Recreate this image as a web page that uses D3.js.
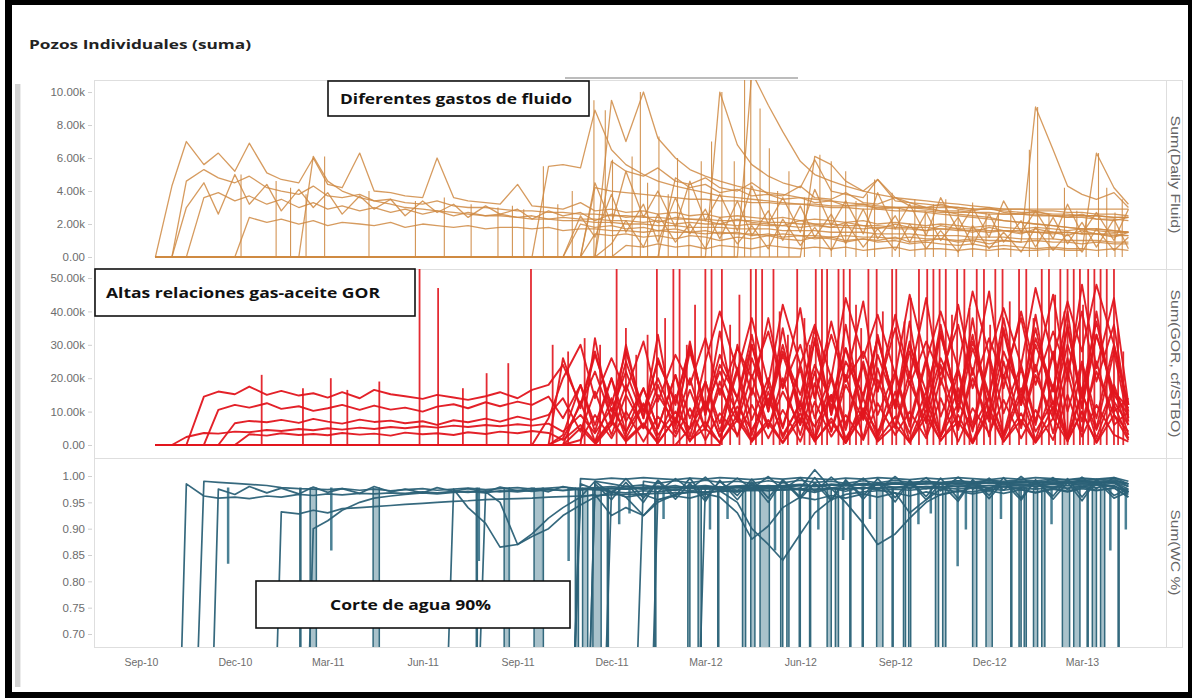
<!DOCTYPE html>
<html>
<head>
<meta charset="utf-8">
<script src="https://cdn.jsdelivr.net/npm/d3@7"></script>
<style>
  body { margin: 0; background: #fff; }
  svg { display: block; }
</style>
</head>
<body>
<svg id="chart" width="1192" height="698"></svg>
<script>
// half-month sample dates shared by every well series
const dates = [
  "2010-09-15","2010-10-01","2010-10-15","2010-11-01","2010-11-15","2010-12-01","2010-12-15",
  "2011-01-01","2011-01-15","2011-02-01","2011-02-15","2011-03-01","2011-03-15","2011-04-01","2011-04-15",
  "2011-05-01","2011-05-15","2011-06-01","2011-06-15","2011-07-01","2011-07-15","2011-08-01","2011-08-15",
  "2011-09-01","2011-09-15","2011-10-01","2011-10-15","2011-11-01","2011-11-15","2011-12-01","2011-12-15",
  "2012-01-01","2012-01-15","2012-02-01","2012-02-15","2012-03-01","2012-03-15","2012-04-01","2012-04-15",
  "2012-05-01","2012-05-15","2012-06-01","2012-06-15","2012-07-01","2012-07-15","2012-08-01","2012-08-15",
  "2012-09-01","2012-09-15","2012-10-01","2012-10-15","2012-11-01","2012-11-15","2012-12-01","2012-12-15",
  "2013-01-01","2013-01-15","2013-02-01","2013-02-15","2013-03-01","2013-03-15","2013-04-01","2013-04-15"
];

const xTicks = ["2010-09-01","2010-12-01","2011-03-01","2011-06-01","2011-09-01","2011-12-01",
  "2012-03-01","2012-06-01","2012-09-01","2012-12-01","2013-03-01"];

// ---- Daily fluid (thousands) ----
const fluidTicks = [0, 2, 4, 6, 8, 10];
const fluidTickLabels = ["0.00", "2.00k", "4.00k", "6.00k", "8.00k", "10.00k"];

const fluidA = [0,4.3,7.0,5.6,6.3,5.2,6.9,5.1,4.7,4.5,
  6.0,4.4,4.2,6.3,4.0,3.9,3.7,3.6,6.0,3.6,
  3.4,3.3,3.2,4.4,3.1,3.0,2.9,3.3,2.8,2.9,
  2.7,2.8,2.6,2.7,2.5,2.6,2.4,2.5,2.4,2.3,
  2.4,2.2,2.3,2.2,2.1,2.2,2.0,2.1,2.0,1.9,
  2.0,1.9,1.8,1.9,1.8,1.7,1.8,1.7,1.6,1.7,
  1.6,1.5,1.5];
const fluidB = [0,0,4.6,5.3,4.8,4.5,4.9,4.2,4.0,3.8,
  4.3,3.7,3.6,3.8,3.4,3.5,3.3,3.2,3.4,3.1,
  3.0,3.0,2.9,2.8,2.8,2.7,2.7,2.6,2.6,2.5,
  2.5,2.4,2.4,2.3,2.3,2.3,2.2,2.2,2.2,2.1,
  2.1,2.0,2.0,2.0,1.9,1.9,1.9,1.8,1.8,1.8,
  1.7,1.7,1.7,1.6,1.6,1.6,1.5,1.5,1.5,1.4,
  1.4,1.4,1.3];
const fluidC = [0,0,0,3.6,3.9,3.4,3.7,3.2,3.5,3.0,
  3.3,2.9,3.1,2.8,3.0,2.7,2.9,2.6,2.8,2.5,
  2.7,2.5,2.6,2.4,2.5,2.3,2.4,2.3,2.3,2.2,
  2.2,2.1,2.2,2.0,2.1,2.0,2.0,1.9,2.0,1.9,
  1.9,1.8,1.9,1.8,1.8,1.7,1.8,1.7,1.7,1.6,
  1.7,1.6,1.6,1.5,1.6,1.5,1.5,1.4,1.5,1.4,
  1.4,1.3,1.3];
const fluidD = [0,0,0,0,0,0,2.4,2.1,2.3,2.0,
  2.2,1.9,2.1,2.0,1.9,2.1,1.8,2.0,1.9,1.8,
  1.9,1.7,1.8,1.8,1.7,1.8,1.6,1.7,1.7,1.6,
  1.6,1.5,1.6,1.5,1.5,1.4,1.5,1.4,1.4,1.3,
  1.4,1.3,1.3,1.2,1.3,1.2,1.2,1.1,1.2,1.1,
  1.1,1.0,1.1,1.0,1.0,0.9,1.0,0.9,0.9,0.8,
  0.9,0.8,0.8];
const fluidE = [0,0,0,0,0,0,0,0,0,0,
  6.1,4.6,4.0,3.6,3.4,3.2,3.0,2.9,2.8,2.7,
  2.6,2.5,2.5,2.4,2.3,2.3,2.2,2.2,2.1,2.1,
  2.0,2.0,1.9,1.9,1.8,1.8,1.8,1.7,1.7,1.7,
  1.6,1.6,1.6,1.5,1.5,1.5,1.4,1.4,1.4,1.3,
  1.3,1.3,1.2,1.2,1.2,1.1,1.1,1.1,1.0,1.0,
  1.0,0.9,0.9];
const fluidF = [0,0,0,0,0,0,0,0,0,0,
  0,0,0,0,0,0,0,0,0,0,
  0,0,0,0,0,5.5,5.6,5.4,8.9,6.5,
  5.6,5.0,4.6,4.3,4.1,3.9,3.7,3.6,3.5,3.4,
  3.3,3.2,3.1,3.0,3.0,2.9,2.9,2.8,2.8,2.8,
  2.7,2.7,2.7,2.6,2.6,2.6,2.6,2.5,2.5,2.5,
  2.5,2.4,2.4];
const fluidG = [0,0,0,0,0,0,0,0,0,0,
  0,0,0,0,0,0,0,0,0,0,
  0,0,0,0,0,0,0,0,0,9.5,
  7.0,10.0,7.2,6.0,5.3,4.9,4.6,4.3,4.1,3.9,
  3.8,3.6,3.5,3.4,3.3,3.2,3.1,3.0,3.0,2.9,
  2.8,2.8,2.7,2.7,2.6,2.6,2.5,2.5,2.4,2.4,
  2.3,2.3,2.2];
const fluidH = [0,0,0,0,0,0,0,0,0,0,
  0,0,0,0,0,0,0,0,0,0,
  0,0,0,0,0,0,0,0,0,0,
  0,0,0,0,0,0,10.0,6.8,5.6,4.9,
  4.5,4.2,5.9,4.0,3.8,3.6,4.7,3.4,3.3,3.2,
  3.1,3.0,2.9,2.9,2.8,2.7,2.7,2.6,2.6,2.5,
  2.5,2.4,2.4];
const fluidI = [0,0,0,0,0,0,0,0,0,0,
  0,0,0,0,0,0,0,0,0,0,
  0,0,0,0,0,0,0,0,0,0,
  0,0,0,0,0,0,0,0,11.2,9.2,
  7.6,5.8,5.0,4.6,4.3,4.0,3.8,3.6,3.5,3.4,
  3.3,3.2,3.1,3.0,2.9,2.9,2.8,2.8,2.7,2.7,
  2.6,2.6,2.5];
const fluidJ = [0,0,0,0,0,0,0,0,0,0,
  0,0,0,0,0,0,0,0,0,0,
  0,0,0,0,0,0,0,0,1.4,1.3,
  1.4,1.2,1.3,1.1,1.3,1.2,1.0,1.2,1.1,1.3,
  1.1,1.0,1.2,1.1,0.9,1.1,1.0,1.2,0.9,1.0,
  1.1,0.9,1.0,0.8,1.0,0.9,9.1,6.5,4.3,3.8,
  3.5,3.9,3.0];
const fluidK = [0,0,0,0,0,0,0,0,0,0,
  0,0,0,0,0,0,0,0,0,0,
  0,0,0,0,0,0,0,0,0,0,
  0.7,0.6,0.8,0.6,0.7,0.5,0.7,0.6,0.5,0.7,
  0.6,0.5,0.6,0.5,0.6,0.4,0.5,0.6,0.4,0.5,
  0.5,0.4,0.5,0.4,0.5,0.4,0.4,0.5,0.4,0.4,
  6.3,4.2,3.2];
const fluidL = [0,0,0,0,0,0,0,0,0,0,
  0,0,0,0,0,0,0,0,0,0,
  0,0,0,0,0,0,0,0,4.2,4.0,
  3.9,3.8,3.7,3.6,3.5,3.5,3.4,3.4,3.3,3.3,
  3.2,3.2,3.2,3.1,3.1,3.1,3.0,3.0,3.0,3.0,
  3.0,3.0,2.9,2.9,2.9,2.9,2.9,2.9,2.9,2.9,
  2.9,2.9,2.9];
const fluidM = [0,0,0,0,0,0,0,0,0,0,
  0,0,0,0,0,0,0,0,0,0,
  0,0,0,0,0,0,0,0,0,0,
  0,0,0,0,0,0,0,0,0,0,
  0,0,6.1,5.6,4.6,4.0,4.7,3.6,3.3,3.0,
  2.8,2.6,2.5,2.4,2.2,2.1,2.0,1.9,1.8,1.7,
  1.7,1.6,1.5];
const fluidN = [0,0,0,0,0,0,0,0,0,0,
  0,0,0,0,0,0,0,0,0,0,
  0,0,0,0,0,0,0,2.0,1.8,1.9,
  1.7,1.8,1.6,1.7,1.5,1.6,1.4,1.5,1.3,1.4,
  1.2,1.3,1.1,1.2,1.0,1.1,0.9,1.0,0.8,0.9,
  0.8,0.7,0.8,0.6,0.7,0.6,0.5,0.6,0.5,0.5,
  0.4,0.5,0.4];
const fluidO = [0,0,0,0,0,0,0,0,0,0,
  0,0,0,0,0,0,0,0,0,0,
  0,0,0,0,0,0,0,0,0,0,
  0,0,0,4.8,4.2,4.4,3.9,4.1,3.7,3.8,
  3.5,3.6,3.3,3.4,3.1,3.2,2.9,3.0,2.8,2.7,
  2.6,2.5,2.4,2.3,2.2,2.1,2.0,1.9,1.8,1.7,
  1.7,1.6,1.5];
const fluidP = [0,0,0,0,0,0,0,0,0,0,
  0,0,0,0,0,0,0,0,0,0,
  0,0,0,0,0,0,0,0,0,5.8,
  5.2,4.9,5.4,4.6,4.4,4.8,4.2,4.0,4.5,3.8,
  3.7,4.3,3.6,3.5,3.9,3.3,3.2,3.6,3.1,3.0,
  3.2,2.9,2.8,3.0,2.7,2.6,2.8,2.5,2.4,2.6,
  2.3,2.2,2.4];
const fluidQ = [0,0,0,0,0,0,0,0,0,0,
  0,0,0,0,0,0,0,0,0,0,
  0,0,0,0,0,0,0,2.5,1.2,3.8,
  1.5,3.2,0.9,3.6,1.4,2.9,1.1,3.4,1.3,2.8,
  1.0,3.1,1.2,2.6,0.8,2.9,1.1,2.5,0.9,2.7,
  1.0,2.4,0.7,2.6,0.9,2.2,0.6,2.4,0.8,2.1,
  0.6,2.3,0.5];
const fluidR = [0,0,0,0,0,0,0,0,0,0,
  0,0,0,0,0,0,0,0,0,0,
  0,0,0,0,0,0,0,0,4.5,2.0,
  5.2,2.4,4.0,1.8,4.6,2.2,3.8,1.6,4.3,2.0,
  3.6,1.5,4.1,1.9,3.4,1.4,3.9,1.7,3.2,1.3,
  3.6,1.6,3.0,1.2,3.4,1.5,2.8,1.1,3.2,1.4,
  2.7,1.0,2.9];
const fluidS = [0,0,0,0,0,0,0,0,0,0,
  0,0,0,0,0,0,0,0,0,0,
  0,0,0,0,0,0,0,0,0,0.8,
  2.2,0.6,2.6,0.9,2.0,0.5,2.4,0.8,1.9,0.5,
  2.3,0.7,1.8,0.4,2.1,0.6,1.7,0.4,2.0,0.5,
  1.6,0.3,1.9,0.5,1.5,0.3,1.8,0.4,1.4,0.3,
  1.7,0.4,1.2];
const fluidT = [0,0,3.0,4.5,2.6,5.0,3.2,4.4,2.8,4.1,
  3.0,3.9,2.6,3.7,2.9,3.5,2.5,3.4,2.7,3.2,
  2.4,3.1,2.6,2.9,2.3,2.8,2.5,2.7,2.2,2.6,
  2.4,2.5,2.1,2.4,2.3,2.2,2.0,2.3,2.1,2.0,
  1.9,2.2,2.0,1.8,2.1,1.9,1.7,2.0,1.8,1.6,
  1.9,1.7,1.5,1.8,1.6,1.4,1.7,1.5,1.3,1.6,
  1.4,1.2,1.5];

// short events: [date, peak] drawn from zero to the peak
const fluidSpikes = [
  ["2010-12-07",5.0],["2011-01-10",4.6],["2011-01-24",4.2],["2011-02-08",3.8],["2011-02-26",6.1],
  ["2011-04-10",4.0],["2011-05-25",3.4],["2011-06-22",3.6],["2011-07-18",3.2],["2011-08-13",3.0],
  ["2011-08-27",3.1],["2011-09-07",2.9],["2011-09-26",5.5],["2011-10-10",3.2],["2011-10-24",4.0],
  ["2011-11-14",9.5],["2011-11-25",8.9],["2011-12-02",5.9],["2011-12-21",6.1],["2011-12-29",10.0],
  ["2012-01-05",4.5],["2012-01-16",7.3],["2012-01-25",3.8],["2012-02-03",6.0],["2012-02-14",4.4],
  ["2012-02-26",5.8],["2012-03-07",7.0],["2012-03-17",10.0],["2012-03-29",5.8],["2012-04-08",10.8],
  ["2012-04-14",10.8],["2012-04-23",9.0],["2012-05-02",6.6],["2012-05-10",4.0],["2012-05-21",5.2],
  ["2012-06-05",3.6],["2012-06-20",6.2],["2012-07-01",5.8],["2012-07-15",5.2],["2012-07-25",3.4],
  ["2012-08-05",3.8],["2012-08-12",4.7],["2012-08-29",3.9],["2012-09-05",3.0],["2012-09-20",3.5],
  ["2012-09-30",2.8],["2012-10-08",3.2],["2012-10-20",3.5],["2012-11-01",2.9],["2012-11-15",3.3],
  ["2012-11-28",2.7],["2012-12-10",2.6],["2012-12-22",2.9],["2013-01-09",6.5],["2013-01-17",9.1],
  ["2013-01-28",2.6],["2013-02-12",4.2],["2013-02-24",2.8],["2013-03-05",2.5],["2013-03-17",6.3],
  ["2013-03-25",4.2],["2013-04-02",2.7],["2013-04-09",3.5]
];

// ---- GOR (thousand cf/STBO) ----
const gorTicks = [0, 10, 20, 30, 40, 50];
const gorTickLabels = ["0.00", "10.00k", "20.00k", "30.00k", "40.00k", "50.00k"];

const gorA = [0,0,2.4,3.6,3.4,4.0,3.8,4.5,4.2,4.8,
  4.4,5.0,4.6,5.2,4.8,5.4,5.0,5.6,5.2,5.8,
  5.4,6.0,5.6,6.2,5.8,6.4,4.0,9.0,3.5,11.0,
  4.0,12.5,3.0,10.0,5.0,13.0,2.5,11.5,4.5,14.0,
  3.0,12.0,5.5,15.0,2.0,11.0,4.0,13.5,3.5,16.0,
  2.5,12.5,5.0,14.5,3.0,17.0,4.0,13.0,2.5,15.5,
  4.5,18.0,6.0];
const gorB = [0,0,0,14.5,16.0,15.2,17.5,15.0,16.2,14.8,
  15.5,14.2,15.8,14.0,16.5,15.2,14.6,13.8,15.0,14.2,
  13.5,14.6,15.8,14.0,16.5,18.0,24.0,12.0,28.0,10.0,
  22.0,8.0,26.0,12.0,30.0,9.0,24.0,14.0,33.0,10.0,
  27.0,12.0,35.0,9.0,25.0,15.0,32.0,11.0,28.0,13.0,
  36.0,10.0,29.0,14.0,38.0,12.0,30.0,16.0,40.0,11.0,
  33.0,15.0,9.0];
const gorC = [0,0,0,0,10.5,12.0,11.2,12.5,10.8,11.6,
  10.2,11.0,12.0,10.5,11.8,10.6,11.2,10.0,11.5,12.2,
  11.0,12.8,11.6,13.0,12.0,14.5,8.0,18.0,6.0,20.0,
  7.0,17.0,5.0,21.0,8.0,19.0,6.5,23.0,7.5,20.0,
  5.5,24.0,8.0,21.0,6.0,25.0,9.0,22.0,7.0,26.0,
  8.5,23.0,6.0,27.0,9.5,24.0,7.0,28.0,10.0,25.0,
  8.0,30.0,12.0];
const gorD = [0,0,0,0,0,6.5,7.2,6.8,7.5,6.6,
  7.8,7.0,6.4,7.6,6.9,7.3,6.5,7.1,6.0,7.4,
  6.8,7.9,7.0,8.5,7.5,9.0,14.0,4.0,16.0,3.0,
  15.0,5.0,18.0,3.5,16.5,4.5,19.0,2.5,17.0,5.0,
  20.0,3.0,18.5,4.0,21.0,2.0,19.5,5.5,22.0,3.0,
  20.0,4.5,23.0,2.5,21.0,5.0,24.0,3.5,22.0,4.0,
  25.0,6.0,10.0];
const gorE = [0,0,0,0,0,0,3.2,2.8,3.5,3.0,
  3.3,2.9,3.6,3.1,3.4,2.8,3.7,3.2,3.5,3.0,
  3.8,3.3,4.0,3.5,4.2,3.6,1.5,6.0,1.0,7.5,
  1.5,6.5,0.8,8.0,1.2,7.0,0.5,9.0,1.5,7.5,
  0.8,9.5,1.0,8.0,0.6,10.0,1.4,8.5,0.7,10.5,
  1.2,9.0,0.5,11.0,1.0,9.5,0.8,11.5,1.5,10.0,
  0.9,12.0,2.0];
const gorF = [0,0,0,0,0,0,0,0,0,0,
  0,0,0,0,0,0,0,0,0,0,
  0,0,0,0,0,8.0,20.0,30.0,14.0,26.0,
  16.0,31.0,13.0,27.0,18.0,32.0,15.0,29.0,20.0,34.0,
  17.0,30.0,14.0,33.0,19.0,28.0,16.0,35.0,18.0,31.0,
  21.0,36.0,17.0,32.0,20.0,38.0,18.0,34.0,22.0,40.0,
  19.0,36.0,8.0];
const gorG = [0,0,0,0,0,0,0,0,0,0,
  0,0,0,0,0,0,0,0,0,0,
  0,0,0,0,0,0,2.0,12.0,22.0,8.0,
  25.0,10.0,20.0,7.0,28.0,11.0,22.0,9.0,26.0,12.0,
  30.0,10.0,24.0,13.0,29.0,9.0,27.0,12.0,31.0,11.0,
  26.0,14.0,33.0,10.0,28.0,15.0,35.0,12.0,30.0,16.0,
  37.0,13.0,6.0];
const gorH = [0,0,0,0,0,0,0,0,0,0,
  0,0,0,0,0,0,0,0,0,0,
  0,0,0,0,0,0,0,1.5,9.0,2.0,
  10.0,1.0,8.5,2.5,11.0,1.5,9.5,3.0,12.0,2.0,
  10.5,1.0,13.0,2.5,9.0,1.5,12.5,3.0,10.0,2.0,
  14.0,1.0,11.0,3.5,13.5,2.0,10.5,1.5,15.0,2.5,
  12.0,3.0,1.0];
const gorI = [0,0,0,0,0,0,0,0,0,0,
  0,0,0,0,0,0,0,0,0,0,
  0,0,0,0,0,0,0,0,0,0,
  0,0,0,0,5.0,25.0,40.0,22.0,38.0,18.0,
  42.0,24.0,36.0,20.0,44.0,26.0,39.0,21.0,45.0,25.0,
  40.0,23.0,46.0,27.0,41.0,24.0,47.0,26.0,43.0,28.0,
  48.0,30.0,10.0];
const gorJ = [0,0,0,0,0,0,0,0,0,0,
  0,0,0,0,0,0,0,0,0,0,
  0,0,0,0,0,0,0,0,0,6.0,
  18.0,5.0,15.0,6.5,20.0,4.5,17.0,7.0,21.0,5.5,
  16.0,6.0,22.0,4.0,18.0,7.5,23.0,5.0,19.0,6.5,
  24.0,5.5,20.0,7.0,25.0,6.0,21.0,8.0,26.0,7.0,
  22.0,9.0,4.0];
const gorK = [0,0,0,0,0,0,0,0,0,0,
  0,0,0,0,0,0,0,0,0,0,
  0,0,0,0,0,0,3,18,4,20,
  3.5,17,5,21,2.5,19,4,22,3,18,
  5,23,2,20,4.5,24,3,21,5.5,25,
  2.5,22,4,26,3,23,6,27,2,24,
  5,28,7];
const gorL = [0,0,0,0,0,0,0,0,0,0,
  0,0,0,0,0,0,0,0,0,0,
  0,0,0,0,0,0,26,11,27,12,
  28,10,25,13,29,11,27,14,30,12,
  28,15,31,11,29,14,32,12,30,16,
  33,13,31,15,34,12,32,17,35,14,
  33,16,11];
const gorM = [0,0,0,0,0,0,0,0,0,0,
  0,0,0,0,0,0,0,0,0,0,
  0,0,0,0,0,0,0,13,1,14,
  2,12,1.5,15,1,13,2.5,14,1,16,
  2,13,1.5,15,0.8,14,2,16,1.2,13,
  2.5,17,1,14,2,15,1.5,18,1,16,
  2,17,3];
const gorN = [0,0,0,0,0,0,0,0,0,0,
  0,0,0,0,0,0,0,0,0,0,
  0,0,0,0,0,0,0,0,32,6,
  30,8,33,5,31,9,34,7,30,10,
  35,6,32,9,36,8,33,11,37,7,
  34,10,38,8,35,12,39,9,36,11,
  40,10,14];
const gorO = [0,0,0,0,0,0,0,0,0,0,
  0,0,0,0,0,0,0,0,0,0,
  0,0,0,0,0,0,0,5,0.5,7,
  1,6,0.5,8,1.5,5,0.8,7.5,1,6.5,
  0.5,8,1.2,7,0.6,9,1,6,0.8,8.5,
  1.5,7,0.5,9.5,1,7.5,0.7,8,1.2,10,
  0.6,9,1.5];
const gorP = [0,0,0,0,0,0,0,0,0,0,
  0,0,0,0,0,0,0,0,0,0,
  0,0,0,0,0,0,0,0,0,0,
  0,0,0,0,0,0,0,30,15,38,
  17,41,14,37,19,43,16,39,20,44,
  18,42,21,46,17,40,22,45,19,48,
  23,44,12];

const gorSpikes = [
  ["2010-12-27",21],["2011-02-05",17],["2011-03-04",20],["2011-03-20",16.5],["2011-04-20",19],
  ["2011-05-29",53],["2011-06-16",47],["2011-07-10",17],["2011-08-02",21.5],["2011-08-23",24.5],
  ["2011-09-14",53],["2011-10-05",30],["2011-10-20",28],["2011-11-05",32],["2011-11-20",30],
  ["2011-12-06",53],["2011-12-15",35],["2011-12-25",27],["2012-01-05",33],["2012-01-14",53],
  ["2012-01-22",38],["2012-01-30",53],["2012-02-05",53],["2012-02-12",30],["2012-02-20",42],
  ["2012-03-01",53],["2012-03-07",53],["2012-03-17",53],["2012-03-25",36],["2012-04-03",45],
  ["2012-04-14",53],["2012-04-19",53],["2012-04-25",53],["2012-05-06",53],["2012-05-12",40],
  ["2012-05-20",33],["2012-05-29",53],["2012-06-05",38],["2012-06-10",30],["2012-06-16",53],
  ["2012-06-22",53],["2012-06-27",53],["2012-07-08",53],["2012-07-13",53],["2012-07-19",53],
  ["2012-07-25",42],["2012-07-30",35],["2012-08-06",53],["2012-08-14",53],["2012-08-20",40],
  ["2012-08-29",53],["2012-09-02",53],["2012-09-10",37],["2012-09-16",44],["2012-09-24",53],
  ["2012-10-02",53],["2012-10-08",53],["2012-10-14",53],["2012-10-20",53],["2012-10-26",39],
  ["2012-10-31",53],["2012-11-07",53],["2012-11-12",41],["2012-11-19",53],["2012-11-26",53],
  ["2012-12-02",36],["2012-12-07",53],["2012-12-14",53],["2012-12-21",43],["2012-12-30",53],
  ["2013-01-06",53],["2013-01-13",38],["2013-01-21",53],["2013-01-28",53],["2013-02-03",45],
  ["2013-02-08",53],["2013-02-12",40],["2013-02-15",53],["2013-02-21",53],["2013-02-27",53],
  ["2013-03-02",42],["2013-03-07",53],["2013-03-13",53],["2013-03-19",53],["2013-03-25",53],
  ["2013-04-01",53],["2013-04-05",35],["2013-04-10",28]
];

// ---- Water cut (fraction) ----
const wcTicks = [0.70, 0.75, 0.80, 0.85, 0.90, 0.95, 1.00];
const wcTickLabels = ["0.70", "0.75", "0.80", "0.85", "0.90", "0.95", "1.00"];

const wcA = [0,0,0.985,0.962,0.958,0.960,0.957,0.962,0.960,0.965,
  0.963,0.966,0.964,0.967,0.966,0.968,0.967,0.970,0.968,0.971,
  0.969,0.972,0.970,0.973,0.971,0.974,0.973,0.975,0.974,0.976,
  0.975,0.977,0.976,0.978,0.977,0.979,0.978,0.980,0.979,0.981,
  0.980,0.982,0.981,0.983,0.982,0.984,0.983,0.985,0.984,0.986,
  0.985,0.986,0.985,0.987,0.986,0.988,0.987,0.988,0.987,0.989,
  0.988,0.989,0.975];
const wcB = [0,0,0,0.990,0.988,0.986,0.984,0.982,0.978,0.976,
  0.975,0.974,0.976,0.973,0.975,0.972,0.974,0.976,0.973,0.975,
  0.977,0.974,0.976,0.978,0.975,0.977,0.979,0.976,0.978,0.980,
  0.977,0.979,0.981,0.978,0.980,0.982,0.979,0.981,0.983,0.980,
  0.982,0.984,0.981,0.983,0.985,0.982,0.984,0.986,0.983,0.985,
  0.987,0.984,0.986,0.988,0.985,0.987,0.989,0.986,0.988,0.990,
  0.987,0.989,0.980];
const wcC = [0,0,0,0,0,0,0,0,0.932,0.928,
  0.935,0.930,0.938,0.940,0.942,0.944,0.946,0.948,0.950,0.952,
  0.953,0.955,0.956,0.957,0.958,0.960,0.961,0.962,0.963,0.964,
  0.965,0.966,0.967,0.968,0.969,0.970,0.971,0.972,0.972,0.973,
  0.974,0.974,0.975,0.976,0.976,0.977,0.978,0.978,0.979,0.980,
  0.980,0.981,0.982,0.982,0.983,0.984,0.984,0.985,0.986,0.986,
  0.987,0.988,0.970];
const wcD = [0,0,0,0,0,0,0,0,0,0,
  0.900,0.915,0.935,0.950,0.958,0.962,0.965,0.968,0.966,0.969,
  0.971,0.968,0.972,0.970,0.973,0.975,0.972,0.976,0.974,0.977,
  0.975,0.978,0.976,0.979,0.977,0.980,0.978,0.981,0.979,0.982,
  0.980,0.983,0.981,0.984,0.982,0.985,0.983,0.986,0.984,0.987,
  0.985,0.988,0.986,0.989,0.987,0.990,0.988,0.991,0.989,0.992,
  0.990,0.992,0.985];
const wcE = [0,0,0,0,0,0,0,0,0,0,
  0,0,0,0,0,0,0,0,0,0.975,
  0.940,0.910,0.865,0.870,0.890,0.920,0.940,0.960,0.965,0.925,
  0.940,0.925,0.955,0.965,0.970,0.968,0.972,0.970,0.975,0.972,
  0.974,0.976,0.973,0.977,0.975,0.978,0.976,0.979,0.977,0.980,
  0.978,0.981,0.979,0.982,0.980,0.983,0.981,0.984,0.982,0.985,
  0.983,0.986,0.970];
const wcF = [0,0,0,0,0,0,0,0,0,0,
  0,0,0,0,0,0,0,0,0,0,
  0,0.970,0.950,0.870,0.885,0.900,0.925,0.945,0.960,0.970,
  0.968,0.972,0.970,0.974,0.972,0.976,0.974,0.978,0.976,0.980,
  0.978,0.982,0.980,0.984,0.982,0.986,0.984,0.988,0.986,0.990,
  0.988,0.991,0.989,0.992,0.990,0.993,0.991,0.994,0.992,0.995,
  0.993,0.995,0.980];
const wcG = [0,0,0,0,0,0,0,0,0,0,
  0,0,0,0,0,0,0,0,0,0,
  0,0,0,0,0,0,0,0.985,0.975,0.970,
  0.960,0.925,0.950,0.965,0.970,0.968,0.972,0.950,0.900,0.870,
  0.840,0.890,0.930,0.955,0.965,0.970,0.972,0.975,0.973,0.976,
  0.978,0.975,0.979,0.977,0.980,0.978,0.981,0.979,0.982,0.980,
  0.983,0.981,0.970];
const wcH = [0,0,0,0,0,0,0,0,0,0,
  0,0,0,0,0,0,0,0,0,0,
  0,0,0,0,0,0,0,0,0.990,0.985,
  0.980,0.983,0.978,0.982,0.976,0.980,0.975,0.979,0.974,0.978,
  0.973,0.977,1.012,0.976,0.950,0.910,0.870,0.890,0.920,0.950,
  0.965,0.972,0.970,0.975,0.973,0.977,0.975,0.979,0.977,0.980,
  0.978,0.982,0.965];
const wcI = [0,0,0,0,0,0,0,0,0,0,
  0,0,0,0,0,0,0,0,0,0,
  0,0,0,0,0,0,0,0.995,0.993,0.996,
  0.994,0.997,0.995,0.993,0.996,0.994,0.997,0.995,0.993,0.996,
  0.994,0.997,0.995,0.993,0.996,0.994,0.997,0.995,0.993,0.996,
  0.994,0.997,0.995,0.993,0.996,0.994,0.997,0.995,0.993,0.996,
  0.994,0.997,0.990];
const wcJ = [0,0,0,0,0,0,0,0,0,0,
  0,0,0,0,0,0,0,0,0,0,
  0,0,0,0,0,0,0,0,0,0.970,
  0.960,0.965,0.955,0.962,0.958,0.966,0.960,0.930,0.880,0.905,
  0.940,0.960,0.955,0.963,0.958,0.966,0.960,0.968,0.962,0.970,
  0.964,0.971,0.966,0.972,0.967,0.974,0.968,0.975,0.970,0.976,
  0.972,0.977,0.960];
const wcK = [0,0,0,0,0,0,0,0,0,0,
  0,0,0,0,0,0,0,0,0,0,
  0,0,0,0,0,0,0,0,0,0,
  0,0.990,0.986,0.991,0.987,0.992,0.988,0.990,0.986,0.991,
  0.987,0.992,0.988,0.990,0.986,0.991,0.987,0.992,0.988,0.990,
  0.986,0.991,0.987,0.992,0.988,0.990,0.986,0.991,0.987,0.992,
  0.988,0.990,0.985];
const wcL = [0,0,0,0,0,0,0,0,0,0,
  0,0,0,0,0,0,0,0,0,0,
  0,0,0,0,0,0,0,0,0,0,
  0,0,0,0,0,0.980,0.975,0.970,0.978,0.972,
  0.980,0.974,0.969,0.977,0.971,0.979,0.973,0.968,0.930,0.955,
  0.975,0.970,0.978,0.972,0.980,0.974,0.969,0.977,0.971,0.979,
  0.973,0.978,0.960];
const wcM = [0,0,0,0,0,0,0,0,0,0,
  0,0,0,0,0,0,0,0,0,0,
  0,0,0,0,0,0,0,0.960,0.990,0.965,
  0.995,0.958,0.992,0.962,0.996,0.957,0.990,0.963,0.994,0.958,
  0.993,0.960,0.997,0.956,0.991,0.962,0.995,0.959,0.992,0.961,
  0.996,0.957,0.993,0.963,0.997,0.958,0.991,0.962,0.995,0.960,
  0.994,0.963,0.975];
const wcN = [0,0,0,0,0,0,0,0,0,0,
  0,0,0,0,0,0,0,0,0,0,
  0,0,0,0,0,0,0,0,0.985,0.955,
  0.988,0.950,0.990,0.956,0.986,0.952,0.992,0.955,0.989,0.950,
  0.991,0.957,0.987,0.953,0.993,0.956,0.988,0.951,0.990,0.955,
  0.986,0.952,0.992,0.957,0.989,0.954,0.993,0.956,0.988,0.953,
  0.991,0.958,0.970];
const wcO = [0,0,0,0,0,0,0,0,0,0,
  0,0,0,0,0,0,0,0,0,0,
  0,0,0,0,0,0,0,0,0,0,
  0,0,0.970,0.995,0.975,0.998,0.972,0.996,0.976,0.999,
  0.974,0.997,0.971,0.998,0.975,0.996,0.973,0.999,0.976,0.997,
  0.972,0.998,0.975,0.996,0.973,0.999,0.977,0.997,0.974,0.998,
  0.976,0.997,0.985];
const wcP = [0,0,0,0,0.975,0.965,0.980,0.968,0.977,0.966,
  0.979,0.969,0.976,0.967,0.980,0.970,0.975,0.968,0.978,0.971,
  0.976,0.969,0.979,0.972,0.977,0.970,0.980,0.973,0.978,0.971,
  0.981,0.974,0.979,0.972,0.982,0.975,0.980,0.973,0.983,0.976,
  0.981,0.974,0.984,0.977,0.982,0.975,0.985,0.978,0.983,0.976,
  0.986,0.979,0.984,0.977,0.987,0.980,0.985,0.978,0.988,0.981,
  0.986,0.980,0.970];

// shut-ins: [start, end, lowest value]; a zero floor runs below the panel
const wcBandLevel = 0.978;
const wcDrops = [
  ["2010-11-24","2010-11-24",0.835],["2011-02-02","2011-02-03",0],["2011-02-12","2011-02-18",0],
  ["2011-03-04","2011-03-04",0.86],["2011-04-14","2011-04-20",0],["2011-07-23","2011-07-24",0],
  ["2011-07-25","2011-07-25",0.84],["2011-08-19","2011-08-24",0],["2011-08-24","2011-09-25",0.715],
  ["2011-09-17","2011-09-26",0],["2011-10-20","2011-10-20",0.84],["2011-10-27","2011-10-30",0],
  ["2011-11-03","2011-11-08",0],["2011-11-13","2011-11-21",0],["2011-11-27","2011-11-28",0],
  ["2011-12-08","2011-12-08",0.91],["2011-12-18","2011-12-18",0.93],["2012-01-12","2012-01-13",0],
  ["2012-01-20","2012-01-20",0.92],["2012-02-13","2012-02-15",0],["2012-02-23","2012-02-26",0],
  ["2012-03-05","2012-03-05",0.90],["2012-03-13","2012-03-14",0],["2012-03-22","2012-03-22",0.92],
  ["2012-04-06","2012-04-09",0],["2012-04-14","2012-04-18",0],["2012-04-23","2012-05-02",0],
  ["2012-05-07","2012-05-07",0.86],["2012-05-13","2012-05-15",0],["2012-05-19","2012-05-21",0],
  ["2012-05-31","2012-06-01",0],["2012-06-10","2012-06-11",0],["2012-06-18","2012-06-18",0.90],
  ["2012-06-27","2012-07-01",0],["2012-07-05","2012-07-08",0],["2012-07-12","2012-07-12",0.88],
  ["2012-07-19","2012-07-20",0],["2012-07-31","2012-08-01",0],["2012-08-07","2012-08-07",0.92],
  ["2012-08-14","2012-08-20",0],["2012-08-29","2012-08-30",0],["2012-09-09","2012-09-11",0],
  ["2012-09-14","2012-09-16",0],["2012-09-23","2012-09-23",0.91],["2012-10-05","2012-10-05",0.93],
  ["2012-10-10","2012-10-13",0],["2012-10-17","2012-10-20",0],["2012-10-31","2012-10-31",0.83],
  ["2012-11-08","2012-11-08",0.90],["2012-11-15","2012-11-19",0],["2012-11-28","2012-12-04",0],
  ["2012-12-12","2012-12-12",0.92],["2012-12-22","2012-12-23",0],["2012-12-30","2013-01-01",0],
  ["2013-01-04","2013-01-06",0],["2013-01-13","2013-01-17",0],["2013-01-21","2013-01-24",0],
  ["2013-01-30","2013-01-30",0.91],["2013-02-10","2013-02-17",0],["2013-02-21","2013-02-27",0],
  ["2013-03-06","2013-03-07",0],["2013-03-11","2013-03-15",0],["2013-03-19","2013-03-23",0],
  ["2013-03-28","2013-03-28",0.86],["2013-04-05","2013-04-06",0],["2013-04-12","2013-04-12",0.90]
];

const fluidSeries = [fluidA, fluidB, fluidC, fluidD, fluidE, fluidF, fluidG, fluidH, fluidI, fluidJ,
  fluidK, fluidL, fluidM, fluidN, fluidO, fluidP, fluidQ, fluidR, fluidS, fluidT];
const gorSeries = [gorA, gorB, gorC, gorD, gorE, gorF, gorG, gorH, gorI, gorJ,
  gorK, gorL, gorM, gorN, gorO, gorP];
const wcSeries = [wcA, wcB, wcC, wcD, wcE, wcF, wcG, wcH, wcI, wcJ, wcK, wcL, wcM, wcN, wcO, wcP];

// ---------------------------------------------------------------
const parse = d3.timeParse("%Y-%m-%d");
const when = dates.map(parse);

const left = 94, right = 1166, labelRight = 1183;
const paneH = 189;

const x = d3.scaleTime()
  .domain([new Date(2010, 6, 17, 12), new Date(2013, 4, 21, 10)])
  .range([left, right]);

const panels = [
  { top: 80, domain: [-0.727, 10.73], ticks: fluidTicks, tickLabels: fluidTickLabels,
    series: fluidSeries, spikes: fluidSpikes, color: "#cf8a43", width: 1.3, spikeWidth: 1.1,
    label: "Sum(Daily Fluid)", labelLen: 118 },
  { top: 269, domain: [-3.9, 52.7], ticks: gorTicks, tickLabels: gorTickLabels,
    series: gorSeries, spikes: gorSpikes, color: "#e2151d", width: 1.9, spikeWidth: 1.8,
    label: "Sum(GOR, cf/STBO)", labelLen: 148 },
  { top: 458, domain: [0.6753, 1.0342], ticks: wcTicks, tickLabels: wcTickLabels,
    series: wcSeries, drops: wcDrops, color: "#2b6177", width: 1.7,
    label: "Sum(WC %)", labelLen: 86 }
];

const svg = d3.select("#chart");

// black frame round the screenshot
svg.append("rect").attr("x", 5).attr("y", 0).attr("width", 1187).attr("height", 698).attr("fill", "#000");
svg.append("rect").attr("x", 12).attr("y", 5).attr("width", 1176).attr("height", 687).attr("fill", "#fff");

// scroll strip on the left
svg.append("rect").attr("x", 15).attr("y", 84).attr("width", 5).attr("height", 603).attr("fill", "#d2d2d2");
svg.append("rect").attr("x", 20).attr("y", 84).attr("width", 1).attr("height", 603).attr("fill", "#ececec");

// stray header line of the dashboard
svg.append("rect").attr("x", 565).attr("y", 77).attr("width", 233).attr("height", 2).attr("fill", "#bcbcbc");

svg.append("text")
  .attr("x", 29).attr("y", 49)
  .attr("font-family", "Open Sans, sans-serif")
  .attr("font-weight", "bold")
  .attr("font-size", 13)
  .attr("textLength", 222)
  .attr("lengthAdjust", "spacingAndGlyphs")
  .attr("fill", "#222")
  .text("Pozos Individuales (suma)");

const defs = svg.append("defs");

panels.forEach((p, i) => {
  const y = d3.scaleLinear().domain(p.domain).range([p.top + paneH, p.top]);

  defs.append("clipPath").attr("id", "clip" + i)
    .append("rect").attr("x", left).attr("y", p.top).attr("width", right - left).attr("height", paneH);

  // pane borders
  const grid = svg.append("g").attr("stroke", "#dedede").attr("fill", "none");
  grid.append("rect").attr("x", left + 0.5).attr("y", p.top + 0.5)
    .attr("width", labelRight - left - 1).attr("height", paneH);
  grid.append("line").attr("x1", right + 0.5).attr("x2", right + 0.5)
    .attr("y1", p.top).attr("y2", p.top + paneH);

  const yAxis = d3.axisLeft(y)
    .tickValues(p.ticks)
    .tickFormat((d, k) => p.tickLabels[k])
    .tickSize(4)
    .tickPadding(3);

  const ga = svg.append("g").attr("transform", `translate(${left - 2},0)`).call(yAxis);
  ga.select(".domain").remove();
  ga.selectAll("line").attr("stroke", "#cfcfcf");
  ga.selectAll("text")
    .attr("fill", "#6d6d6d")
    .attr("font-family", "Liberation Sans, Arial, sans-serif")
    .attr("font-size", 11.5);

  // side label column
  const cy = p.top + paneH / 2;
  svg.append("text")
    .attr("transform", `translate(${(right + labelRight) / 2 - 4},${cy}) rotate(90)`)
    .attr("text-anchor", "middle")
    .attr("font-family", "Liberation Sans, Arial, sans-serif")
    .attr("font-size", 12)
    .attr("textLength", p.labelLen)
    .attr("lengthAdjust", "spacingAndGlyphs")
    .attr("fill", "#666")
    .text(p.label);

  const g = svg.append("g").attr("clip-path", `url(#clip${i})`);

  if (p.drops) {
    const dg = g.append("g");
    p.drops.forEach(d => {
      const x0 = x(parse(d[0]));
      const x1 = Math.max(x(parse(d[1])), x0 + 1);
      const y0 = y(wcBandLevel), y1 = y(d[2]);
      if (d[2] === 0 && x1 - x0 > 1.5) {
        dg.append("rect").attr("x", x0).attr("y", y0)
          .attr("width", x1 - x0).attr("height", y1 - y0)
          .attr("fill", "#9ab7c2").attr("opacity", 0.85);
      }
      dg.append("path")
        .attr("d", `M${x0},${y0}V${y1}H${x1}V${y0}`)
        .attr("fill", "none")
        .attr("stroke", d[2] === 0 ? "#33697d" : "#4b8195")
        .attr("stroke-width", 1.5);
    });
  }

  if (p.spikes) {
    g.append("g").selectAll("line")
      .data(p.spikes)
      .join("line")
      .attr("x1", d => x(parse(d[0])))
      .attr("x2", d => x(parse(d[0])))
      .attr("y1", y(0))
      .attr("y2", d => y(d[1]))
      .attr("stroke", p.color)
      .attr("stroke-width", p.spikeWidth)
      .attr("opacity", 0.9);
  }

  const line = d3.line()
    .defined(v => v != null)
    .x((v, k) => x(when[k]))
    .y(v => y(v));

  g.append("g").selectAll("path")
    .data(p.series)
    .join("path")
    .attr("d", line)
    .attr("fill", "none")
    .attr("stroke", p.color)
    .attr("stroke-width", p.width)
    .attr("stroke-linejoin", "round")
    .attr("opacity", i === 0 ? 0.85 : 0.95);
});

// time axis under the last pane
const xAxis = d3.axisBottom(x)
  .tickValues(xTicks.map(parse))
  .tickFormat(d3.timeFormat("%b-%y"))
  .tickSize(0)
  .tickPadding(12);

const gx = svg.append("g").attr("transform", `translate(0,${458 + paneH})`).call(xAxis);
gx.select(".domain").remove();
gx.selectAll("text")
  .attr("fill", "#6d6d6d")
  .attr("font-family", "Liberation Sans, Arial, sans-serif")
  .attr("font-size", 10.5);

// annotation boxes
const notes = [
  { x: 328, y: 81, w: 261, h: 35, tx: 340, ty: 104, len: 232, text: "Diferentes gastos de fluido" },
  { x: 95, y: 269, w: 320, h: 47, tx: 106, ty: 298, len: 274, text: "Altas relaciones gas-aceite GOR" },
  { x: 256, y: 581, w: 314, h: 47, tx: 330, ty: 610, len: 161, text: "Corte de agua 90%" }
];
notes.forEach(n => {
  svg.append("rect")
    .attr("x", n.x).attr("y", n.y).attr("width", n.w).attr("height", n.h)
    .attr("fill", "#fff").attr("stroke", "#111").attr("stroke-width", 1.6);
  svg.append("text")
    .attr("x", n.tx).attr("y", n.ty)
    .attr("font-family", "Open Sans, sans-serif")
    .attr("font-weight", "bold")
    .attr("font-size", 14)
    .attr("textLength", n.len)
    .attr("lengthAdjust", "spacingAndGlyphs")
    .attr("fill", "#111")
    .text(n.text);
});
</script>
</body>
</html>
